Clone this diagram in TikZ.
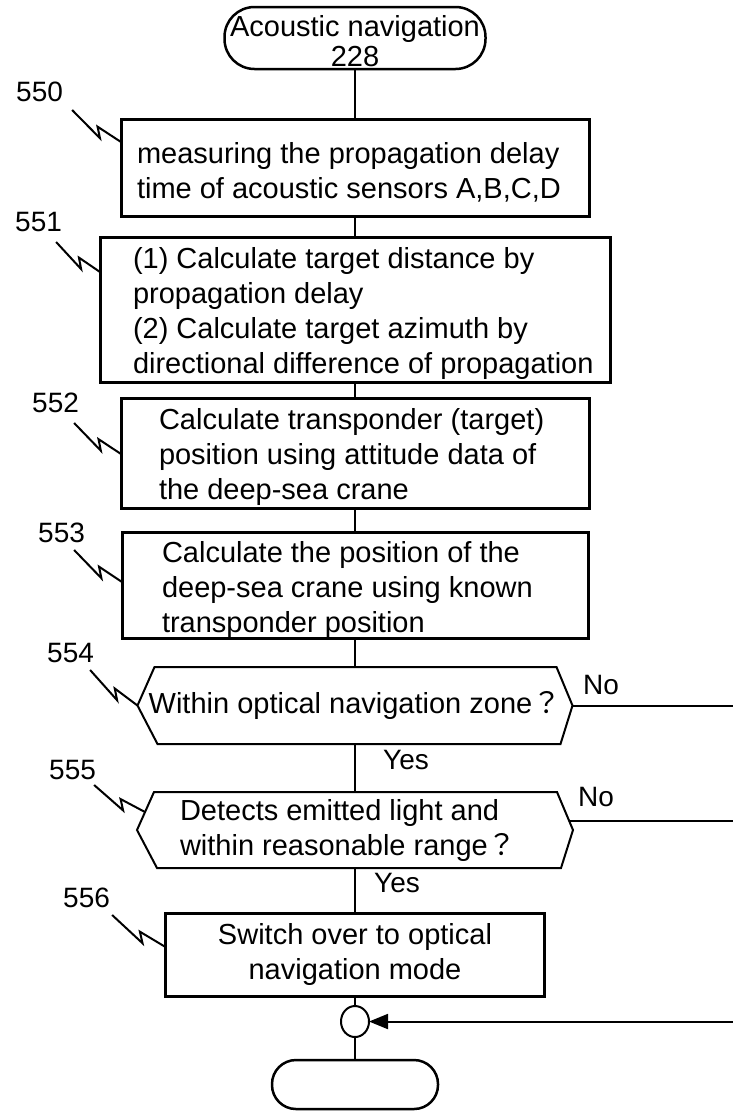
\documentclass[tikz,border=0pt]{standalone}
\usepackage{fontspec}
\setmainfont{Liberation Sans}
\newfontfamily\cjk{Noto Sans CJK JP}
\usepackage{tikz}
\usetikzlibrary{shapes.geometric, arrows.meta}
\usetikzlibrary{positioning, calc}
\newcommand{\boxfont}{\fontsize{29}{35}\selectfont}
\newcommand{\tagfont}{\fontsize{28}{34}\selectfont}
\tikzstyle{process} = [rectangle, draw=black, line width=3pt, inner sep=0pt, outer sep=0pt, align=flush left, font=\boxfont, execute at begin node={\rule{0pt}{30pt}}]
\tikzstyle{terminal} = [rectangle, draw=black, line width=2.5pt, inner sep=0pt, outer sep=0pt, align=center, font=\fontsize{29}{30}\selectfont]
\tikzstyle{decision} = [rectangle, inner sep=0pt, outer sep=0pt, align=center, font=\boxfont]
\tikzstyle{tag} = [inner sep=0pt, anchor=south west, font=\tagfont]
\tikzstyle{flow} = [draw=black, line width=2pt]
\tikzstyle{lead} = [draw=black, line width=2pt, to path={-- ($(\tikztostart)!0.57!(\tikztotarget)+(0,-10)$) -- ($(\tikztostart)!0.52!(\tikztotarget)$) -- (\tikztotarget)}]
\newcommand{\hexframe}[1]{\draw[flow] ([xshift=17pt]#1.north west) -- ([xshift=-16pt]#1.north east) -- (#1.east) -- ([xshift=-12pt]#1.south east) -- ([xshift=20pt]#1.south west) -- (#1.west) -- cycle;}

\begin{document}
\begin{tikzpicture}[x=1pt, y=1pt]
        \useasboundingbox (0,0) rectangle (733,-1111);

        \node[terminal, minimum width=261pt, minimum height=62pt, rounded corners=30pt] (start) at (355,-38) {\rule{0pt}{27pt}Acoustic navigation\\228};

        \node[process, below=50pt of start, minimum width=468pt, minimum height=97pt, text width=436pt] (s550) {measuring the propagation delay\\time of acoustic sensors A,B,C,D};
        \node[process, below=21pt of s550, minimum width=510pt, minimum height=145pt, text width=444pt] (s551) {(1) Calculate target distance by\\propagation delay\\(2) Calculate target azimuth by\\\mbox{directional difference of propagation}};
        \node[process, below=16pt of s551, minimum width=468pt, minimum height=110pt, text width=392pt] (s552) {Calculate transponder (target)\\position using attitude data of\\the deep-sea crane};
        \node[process, below=24pt of s552, minimum width=466pt, minimum height=106pt, text width=386pt] (s553) {Calculate the position of the\\deep-sea crane using known\\transponder position};

        \node[decision, below=29pt of s553, minimum width=435pt, minimum height=77pt] (h554) {Within optical navigation zone{\cjk ？}};
        \node[decision, below=48pt of h554, minimum width=436pt, minimum height=76pt, text width=350pt, align=flush left] (h555) {Detects emitted light and\\within reasonable range{\cjk ？}};
        \hexframe{h554}
        \hexframe{h555}

        \node[process, below=45pt of h555, minimum width=379pt, minimum height=83pt, align=center] (s556) {Switch over to optical\\navigation mode};
        \node[ellipse, draw=black, line width=2pt, below=10pt of s556, minimum width=28pt, minimum height=31pt, inner sep=0pt, outer sep=0pt] (join) {};
        \node[terminal, below=23pt of join, minimum width=166pt, minimum height=49pt, rounded corners=24pt] (stop) {};

        \node[tag] (l550) at (16,-102) {550};
        \node[tag] (l551) at (15,-232) {551};
        \node[tag] (l552) at (32,-413) {552};
        \node[tag] (l553) at (38,-543) {553};
        \node[tag] (l554) at (47,-663) {554};
        \node[tag] (l555) at (49,-780) {555};
        \node[tag] (l556) at (63,-908) {556};

        \node[tag] (yes554) at (383,-770) {Yes};
        \node[tag] (yes555) at (374,-893) {Yes};
        \node[tag] (no554) at (583,-695) {No};
        \node[tag] (no555) at (578,-807) {No};

        \draw[flow] (start) -- (s550);
        \draw[flow] (s550) -- (s551);
        \draw[flow] (s551) -- (s552);
        \draw[flow] (s552) -- (s553);
        \draw[flow] (s553) -- (h554);
        \draw[flow] (h554) -- (h555);
        \draw[flow] (h555) -- (s556);
        \draw[flow] (s556) -- (join);
        \draw[flow] (join) -- (stop);

        \draw[flow] (h554.east) -- ++(161,0) coordinate (out554);
        \draw[flow] ([shift={(-3pt,9pt)}]h555.east) -- ++(163,0) coordinate (out555);
        \draw[flow, -{Triangle[length=19pt, width=15pt]}] (join.east) ++(364,0) coordinate (ret) -- (join.east);

        \draw[lead] ([shift={(9pt,-8pt)}]l550.south east) to ([yshift=-23pt]s550.north west);
        \draw[lead] ([shift={(-6pt,-10pt)}]l551.south east) to ([yshift=-35pt]s551.north west);
        \draw[lead] ([shift={(-5pt,-10pt)}]l552.south east) to ([yshift=-56pt]s552.north west);
        \draw[lead] ([shift={(-11pt,-7pt)}]l553.south east) to ([yshift=-50pt]s553.north west);
        \draw[lead] ([shift={(-4pt,-7pt)}]l554.south east) to (h554.west);
        \draw[lead] ([shift={(-2pt,-5pt)}]l555.south east) to ([shift={(8pt,18pt)}]h555.west);
        \draw[lead] ([shift={(2pt,-7pt)}]l556.south east) to ([yshift=-34pt]s556.north west);

    \end{tikzpicture}
\end{document}
